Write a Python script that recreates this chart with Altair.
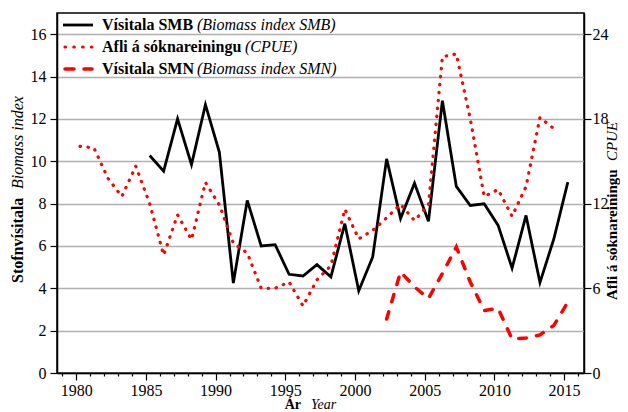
import altair as alt
import pandas as pd

# ---------------- data ----------------
smb_years = list(range(1985, 2016))
smb_values = [10.27, 9.53, 12.0, 9.84, 12.67, 10.42, 4.25, 8.15, 6.0, 6.06,
              4.66, 4.58, 5.12, 4.54, 7.05, 3.88, 5.48, 10.11, 7.29, 8.96,
              7.16, 12.86, 8.81, 7.91, 7.99, 6.97, 4.95, 7.44, 4.27, 6.34, 9.01]

cpue_years = list(range(1980, 2015))
cpue_values = [16.05, 15.95, 13.8, 12.5, 14.65, 12.0, 8.35, 11.2, 9.45, 13.5,
               11.9, 9.2, 8.5, 6.0, 6.0, 6.45, 4.75, 6.6, 7.6, 11.6,
               9.5, 10.1, 11.0, 11.95, 10.8, 11.9, 22.4, 22.6, 18.0, 12.5,
               13.0, 11.1, 13.2, 18.1, 17.3]

smn_years = list(range(2002, 2016))
smn_values = [2.55, 4.77, 4.07, 3.52, 4.7, 5.95, 4.3, 2.95, 3.05, 1.6,
              1.65, 1.8, 2.25, 3.35]

x_ticks = list(range(1979, 2017))
y_left_ticks = [0, 2, 4, 6, 8, 10, 12, 14, 16]
y_right_ticks = [0, 6, 12, 18, 24]

legend_bold = ["Vísitala SMB", "Afli á sóknareiningu", "Vísitala SMN"]
legend_italic = ["(Biomass index SMB)", "(CPUE)", "(Biomass index SMN)"]

x_title_bold, x_title_italic = "Ár", "Year"
yl_title_bold, yl_title_italic = "Stofnvísitala", "Biomass index"
yr_title_bold, yr_title_italic = "Afli á sóknareiningu", "CPUE"

# ---------------- layout / style ----------------
W, H = 527, 360
FONT = "Liberation Serif"
FS = 16
RED = "#ff0000"
YEAR_SHIFT = 0.27   # points sit slightly right of the year ticks in the reference

df_smb = pd.DataFrame({"year": smb_years, "value": smb_values})
df_cpue = pd.DataFrame({"year": cpue_years, "value": cpue_values})
df_smn = pd.DataFrame({"year": smn_years, "value": smn_values})

x_enc = alt.X(
    "xpos:Q",
    scale=alt.Scale(domain=[1978.62, 2016.43], nice=False, zero=False),
    axis=alt.Axis(
        values=x_ticks, format="d", title=None, grid=False,
        labelExpr="datum.value % 5 === 0 ? datum.label : ''",
        tickSize={"condition": {"test": "datum.value % 5 === 0", "value": 7}, "value": 3},
        tickColor="black", domainColor="black", domainWidth=1.5, tickWidth=1.2,
        labelPadding=2, labelFont=FONT, labelFontSize=FS, labelColor="black",
    ),
)

y_left = alt.Y(
    "value:Q",
    scale=alt.Scale(domain=[0, 17], nice=False, zero=True),
    axis=alt.Axis(
        values=y_left_ticks, orient="left", title=None, grid=True,
        gridColor="#b0b0b0", gridWidth=1.5, tickSize=7, tickColor="black",
        tickWidth=1.2, domainColor="black", domainWidth=1.5, labelPadding=4,
        labelFont=FONT, labelFontSize=FS, labelColor="black",
    ),
)

y_right = alt.Y(
    "value:Q",
    scale=alt.Scale(domain=[0, 25.5], nice=False, zero=True),
    axis=alt.Axis(
        values=y_right_ticks, orient="right", title=None, grid=False,
        tickSize=7, tickColor="black", tickWidth=1.2, domainColor="black",
        domainWidth=1.5, labelPadding=1, labelFont=FONT, labelFontSize=FS,
        labelColor="black",
    ),
)

calc = "datum.year + %s" % YEAR_SHIFT

smb_line = alt.Chart(df_smb).transform_calculate(xpos=calc).mark_line(
    color="black", strokeWidth=2.8, strokeJoin="miter"
).encode(x=x_enc, y=y_left)

smn_line = alt.Chart(df_smn).transform_calculate(xpos=calc).mark_line(
    color=RED, strokeWidth=3.5, strokeDash=[7.5, 10.5], strokeCap="round"
).encode(x=x_enc, y=y_left)

left = alt.layer(smb_line, smn_line)

cpue_line = alt.Chart(df_cpue).transform_calculate(xpos=calc).mark_line(
    color=RED, strokeWidth=3.2, strokeDash=[0.5, 7.5], strokeCap="round"
).encode(x=x_enc, y=y_right)

# ---------------- legend (drawn by hand: mixed bold / italic labels) ----------------
one = pd.DataFrame({"k": [0]})
LX0, LX1 = 6, 36          # symbol start / end (plot coords)
ROW_Y = [12, 34, 56]      # symbol rows
TXT_Y = [16.5, 38.7, 60.5]
BOLD_X = 45
ITAL_X = [140, 188, 140]

leg_solid = alt.Chart(one).mark_rule(color="black", strokeWidth=2.8).encode(
    x=alt.value(LX0), x2=alt.value(LX1), y=alt.value(ROW_Y[0]))
leg_dot = alt.Chart(one).mark_rule(color=RED, strokeWidth=3.2, strokeDash=[0.5, 8.3], strokeCap="round").encode(
    x=alt.value(LX0 + 2), x2=alt.value(LX1), y=alt.value(ROW_Y[1]))
leg_dash = alt.Chart(one).mark_rule(color=RED, strokeWidth=3.5, strokeDash=[9, 10], strokeCap="round").encode(
    x=alt.value(LX0 + 2), x2=alt.value(LX1 - 1), y=alt.value(ROW_Y[2]))

leg_texts = []
for i in range(3):
    leg_texts.append(alt.Chart(one).mark_text(
        text=legend_bold[i], font=FONT, fontSize=FS, fontWeight="bold", align="left",
        baseline="alphabetic", color="black").encode(x=alt.value(BOLD_X), y=alt.value(TXT_Y[i])))
    leg_texts.append(alt.Chart(one).mark_text(
        text=legend_italic[i], font=FONT, fontSize=FS, fontStyle="italic", align="left",
        baseline="alphabetic", color="black").encode(x=alt.value(ITAL_X[i]), y=alt.value(TXT_Y[i])))

# ---------------- axis titles (mixed bold / italic) ----------------
TFS = 16
RFS = 15
xt_b = alt.Chart(one).mark_text(text=x_title_bold, font=FONT, fontSize=14, fontWeight="bold",
                                align="right", baseline="alphabetic", color="black").encode(
    x=alt.value(244), y=alt.value(396))
xt_i = alt.Chart(one).mark_text(text=x_title_italic, font=FONT, fontSize=14, fontStyle="italic",
                                align="left", baseline="alphabetic", color="black").encode(
    x=alt.value(254), y=alt.value(396))

ylt_b = alt.Chart(one).mark_text(text=yl_title_bold, font=FONT, fontSize=TFS, fontWeight="bold",
                                 align="left", baseline="middle", angle=270, color="black").encode(
    x=alt.value(-39), y=alt.value(270))
ylt_i = alt.Chart(one).mark_text(text=yl_title_italic, font=FONT, fontSize=TFS, fontStyle="italic",
                                 align="left", baseline="middle", angle=270, color="black").encode(
    x=alt.value(-39), y=alt.value(176))

yrt_b = alt.Chart(one).mark_text(text=yr_title_bold, font=FONT, fontSize=RFS, fontWeight="bold",
                                 align="left", baseline="alphabetic", angle=270, color="black").encode(
    x=alt.value(W + 33), y=alt.value(287))
yrt_i = alt.Chart(one).mark_text(text=yr_title_italic, font=FONT, fontSize=RFS, fontStyle="italic",
                                 align="left", baseline="alphabetic", angle=270, color="black").encode(
    x=alt.value(W + 33), y=alt.value(148))

chart = alt.layer(
    left, cpue_line, leg_solid, leg_dot, leg_dash, *leg_texts,
    xt_b, xt_i, ylt_b, ylt_i, yrt_b, yrt_i,
).resolve_scale(y="independent").properties(
    width=W, height=H,
    autosize=alt.AutoSizeParams(type="none"),
    padding={"left": 49, "top": 5, "right": 36, "bottom": 40},
    background="white",
).configure_view(stroke="black", strokeWidth=1.5)

chart.save("out.html", embed_options={"renderer": "svg", "actions": False})
